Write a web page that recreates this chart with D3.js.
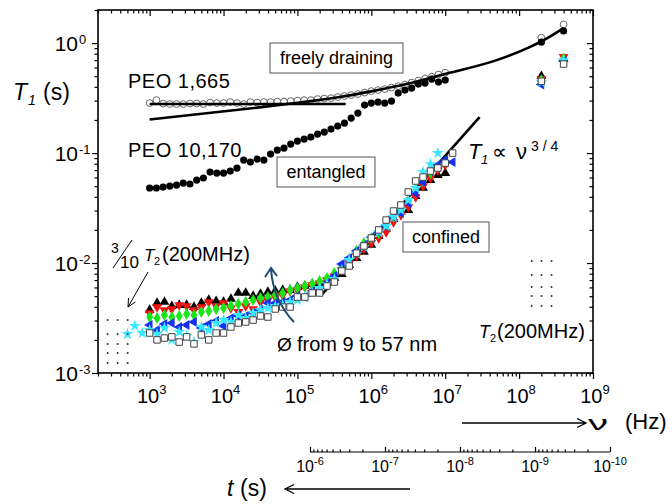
<!DOCTYPE html>
<html>
<head>
<meta charset="utf-8">
<script src="https://cdn.jsdelivr.net/npm/d3@7"></script>
<style>
body { margin: 0; background: #fff; }
svg text { font-family: "Liberation Sans", Arial, sans-serif; fill: #000; }
</style>
</head>
<body>
<svg id="chart" width="672" height="504"></svg>
<script>
// ---- data ----
// PEO melts, frequency grid in Hz
var nuPEO = [1000, 1233, 1520, 1874, 2310, 2848, 3511, 4329, 5337, 6579, 8111,
  1.0e4, 1.233e4, 1.52e4, 1.874e4, 2.31e4, 2.848e4, 3.511e4, 4.329e4, 5.337e4, 6.579e4, 8.111e4,
  1.0e5, 1.233e5, 1.52e5, 1.874e5, 2.31e5, 2.848e5, 3.511e5, 4.329e5, 5.337e5, 6.579e5, 8.111e5,
  1.0e6, 1.233e6, 1.52e6, 1.874e6, 2.31e6, 2.848e6, 3.511e6, 4.329e6, 5.337e6, 6.579e6, 8.111e6,
  1.0e7];
var t1665 = [0.285, 0.303, 0.282, 0.279, 0.279, 0.279, 0.282, 0.282, 0.279, 0.288, 0.285,
  0.285, 0.291, 0.285, 0.279, 0.291, 0.288, 0.291, 0.291, 0.294, 0.294, 0.297,
  0.300, 0.303, 0.303, 0.310, 0.313, 0.316, 0.323, 0.330, 0.337, 0.344, 0.355,
  0.366, 0.374, 0.382, 0.394, 0.406, 0.419, 0.437, 0.456, 0.476, 0.496, 0.517,
  0.539];
var t10170 = [0.0481, 0.0481, 0.0491, 0.0501, 0.0512, 0.0534, 0.0523, 0.0568, 0.0593, 0.0672, 0.0658,
  0.0658, 0.0686, 0.0731, 0.0864, 0.0828, 0.0882, 0.0864, 0.0979, 0.1065, 0.111, 0.1207,
  0.1285, 0.134, 0.1398, 0.1488, 0.1552, 0.1652, 0.176, 0.1874, 0.2081, 0.231, 0.2732,
  0.2848, 0.2908, 0.2848, 0.2971, 0.3511, 0.3738, 0.3899, 0.4238, 0.4329, 0.4708, 0.442,
  0.4609];

// high field points (200 and 400 MHz)
var nuHF = [2e8, 4e8];
var t1665HF = [1.12, 1.48];
var t10170HF = [1.02, 1.29];

// PEO in nanopores, frequency grid in Hz
var nuPore = [1000, 1259, 1585, 1995, 2512, 3162, 3981, 5012, 6310, 7943,
  1.0e4, 1.259e4, 1.585e4, 1.995e4, 2.512e4, 3.162e4, 3.981e4, 5.012e4, 6.31e4, 7.943e4,
  1.0e5, 1.259e5, 1.585e5, 1.995e5, 2.512e5, 3.162e5, 3.981e5, 5.012e5, 6.31e5, 7.943e5,
  1.0e6, 1.259e6, 1.585e6, 1.995e6, 2.512e6, 3.162e6, 3.981e6, 5.012e6, 6.31e6, 7.943e6,
  1.0e7, 1.259e7];
var tBlack = [0.00374, 0.00433, 0.00442, 0.00406, 0.00415, 0.00415, 0.00398, 0.00433, 0.00461, 0.00451,
  0.00442, 0.00471, 0.00534, 0.00534, 0.00501, 0.00523, 0.00545, 0.00557, 0.00568, 0.00568,
  0.00605, 0.00618, 0.00644, 0.00644, 0.00672, 0.00731, 0.00794, 0.00959, 0.0111, 0.0126,
  0.0146, 0.0176, 0.0204, 0.0251, 0.0291, 0.0303, 0.0406, 0.0481, 0.0568, 0.0631,
  0.0658];
var tRed = [0.00351, 0.00398, 0.00374, 0.00382, 0.00415, 0.00406, 0.00374, 0.00398, 0.00442, 0.00406,
  0.00433, 0.00390, 0.00359, 0.00406, 0.00382, 0.00442, 0.00461, 0.00491, 0.00512, 0.00557,
  0.00568, 0.00605, 0.00631, 0.00658, 0.00701, 0.00762, 0.00864, 0.0100, 0.0116, 0.0134,
  0.0152, 0.0169, 0.0191, 0.0236, 0.0273, 0.0323, 0.0398, 0.0501, 0.0593, 0.0701,
  0.0778];
var tGreen = [0.00323, 0.00316, 0.00337, 0.00323, 0.00330, 0.00344, 0.00337, 0.00359, 0.00366, 0.00382,
  0.00390, 0.00406, 0.00424, 0.00442, 0.00461, 0.00481, 0.00491, 0.00512, 0.00534, 0.00568,
  0.00593, 0.00618, 0.00644, 0.00686, 0.00731, 0.00811, 0.00939, 0.0109, 0.0129, 0.0152,
  0.0169, 0.0187, 0.0226, 0.0262, 0.0297, 0.0366, 0.0461, 0.0557, 0.0658, 0.0746,
  0.0828];
var tBlue = [0.00273, 0.00246, 0.00279, 0.00285, 0.00262, 0.00273, 0.00291, 0.00257, 0.00279, 0.00297,
  0.00268, 0.00316, 0.00330, 0.00330, 0.00351, 0.00374, 0.00433, 0.00433, 0.00442, 0.00461,
  0.00501, 0.00491, 0.00557, 0.00568, 0.00658, 0.00762, 0.00979, 0.0111, 0.0129, 0.0146,
  0.0172, 0.0191, 0.0217, 0.0262, 0.0285, 0.0351, 0.0433, 0.0545, 0.0686, 0.0778,
  0.0864, 0.0828];
var nuCyanLow = [501, 631, 794];
var tCyanLow = [0.00226, 0.00268, 0.00231];
var tCyan = [0.00246, 0.00226, 0.00257, 0.00200, 0.00236, 0.00217, 0.00191, 0.00262, 0.00246, 0.00285,
  0.00303, 0.00291, 0.00337, 0.00316, 0.00351, 0.00374, 0.00390, 0.00406, 0.00415, 0.00442,
  0.00461, 0.00491, 0.00534, 0.00593, 0.00644, 0.00715, 0.00864, 0.01065, 0.0121, 0.0140,
  0.0169, 0.0191, 0.0217, 0.0262, 0.0303, 0.0374, 0.0481, 0.0672, 0.0794, 0.100];
var tSquare = [0.00231, 0.00200, 0.00208, 0.00213, 0.00191, 0.00213, 0.00184, 0.00222, 0.00200, 0.00231,
  0.00231, 0.00262, 0.00285, 0.00291, 0.00303, 0.00330, 0.00323, 0.00382, 0.00398, 0.00398,
  0.00491, 0.00491, 0.00534, 0.00534, 0.00618, 0.00672, 0.00846, 0.00939, 0.0123, 0.0143,
  0.0169, 0.0200, 0.0246, 0.0297, 0.0337, 0.0442, 0.0557, 0.0605, 0.0686, 0.0731,
  0.0811, 0.100];
// pores at 200 / 400 MHz
var tBlackHF = [0.50, 0.72], tRedHF = [0.47, 0.75], tGreenHF = [0.46, 0.72];
var tBlueHF = [0.42, 0.69], tCyanHF = [0.44, 0.70], tSquareHF = [0.45, 0.645];

// fit curves
var nuFree = [1e3, 2.25e4, 1.07e5, 3.72e5, 1.04e6, 3.0e6, 1.05e7, 4.97e7, 1.39e8, 2.02e8, 4.0e8];
var tFree = [0.202, 0.254, 0.288, 0.323, 0.366, 0.424, 0.528, 0.70, 0.92, 1.04, 1.37];
var nuFlat = [1e3, 4.5e5];
var tFlat = [0.279, 0.279];
var nuConf = [2.12e5, 2.92e7];
var tConf = [0.00512, 0.212];

// T2 at 200 MHz (right) and 3/10 T2 (left)
var nuT2 = [1.48e8, 2.01e8, 2.75e8];
var tT2 = [0.01043, 0.00778, 0.00605, 0.00501, 0.00406];
var nuT2s = [270, 369, 504];
var tT2s = [0.00303, 0.00226, 0.00184, 0.00152, 0.00123];

// ---- chart ----
var svg = d3.select("#chart");
var x = d3.scaleLog().domain([2e2, 1e9]).range([98, 593]);
var y = d3.scaleLog().domain([1e-3, 2]).range([373, 10]);
var tScale = d3.scaleLog().domain([1e-6, 1e-10]).range([310, 610]);

function isMajor(v) {
  var l = Math.log10(v);
  return Math.abs(l - Math.round(l)) < 1e-6;
}

function addTicks(gen, transform, values, size) {
  svg.append("g")
    .attr("transform", transform)
    .call(gen.tickValues(values).tickSize(size).tickFormat(""))
    .call(function(g) {
      g.select(".domain").remove();
      g.selectAll("text").remove();
    })
    .selectAll("line").attr("stroke", "#000").attr("stroke-width", 1.2);
}

var xt = x.ticks(), yt = y.ticks();
var xMaj = xt.filter(isMajor), xMin = xt.filter(function(v) { return !isMajor(v); });
var yMaj = yt.filter(isMajor), yMin = yt.filter(function(v) { return !isMajor(v); });

addTicks(d3.axisBottom(x), "translate(0,373)", xMaj, 6);
addTicks(d3.axisBottom(x), "translate(0,373)", xMin, 3.5);
addTicks(d3.axisBottom(x), "translate(0,10)", xMaj, 6);
addTicks(d3.axisBottom(x), "translate(0,10)", xMin, 3.5);
addTicks(d3.axisLeft(y), "translate(98,0)", yMaj, 6);
addTicks(d3.axisLeft(y), "translate(98,0)", yMin, 3.5);
addTicks(d3.axisLeft(y), "translate(593,0)", yMaj, 6);
addTicks(d3.axisLeft(y), "translate(593,0)", yMin, 3.5);

svg.append("rect")
  .attr("x", 98).attr("y", 10).attr("width", 495).attr("height", 363)
  .attr("fill", "none").attr("stroke", "#000").attr("stroke-width", 1.6);

// y tick labels
yMaj.forEach(function(v) {
  svg.append("text").attr("x", 78).attr("y", y(v) + 8)
    .attr("text-anchor", "end").style("font-size", "21px").text("10");
  svg.append("text").attr("x", 79).attr("y", y(v) + 1)
    .style("font-size", "13px").text(Math.round(Math.log10(v)));
});

// x tick labels
xMaj.filter(function(v) { return v >= 1e3; }).forEach(function(v) {
  var t = svg.append("text").attr("x", x(v) + 2).attr("y", 403)
    .attr("text-anchor", "middle").style("font-size", "20px");
  t.append("tspan").text("10");
  t.append("tspan").attr("dy", -9).style("font-size", "13px").text(Math.round(Math.log10(v)));
});

// axis titles
svg.append("text").attr("x", 13).attr("y", 100).style("font-size", "23px").style("font-style", "italic").text("T");
svg.append("text").attr("x", 28).attr("y", 105).style("font-size", "14px").style("font-style", "italic").text("1");
svg.append("text").attr("x", 43).attr("y", 100).style("font-size", "23px").text("(s)");

svg.append("text").attr("transform", "translate(588,430) scale(2,1.05)")
  .style("font-size", "20px").text("ν");
svg.append("text").attr("x", 625).attr("y", 429).style("font-size", "22px").text("(Hz)");
svg.append("path").attr("d", "M462,423H585M577,418.5L586,423L577,427.5")
  .attr("fill", "none").attr("stroke", "#000").attr("stroke-width", 1.3);

// time axis underneath
var tt = tScale.ticks();
var tMaj = tt.filter(isMajor), tMin = tt.filter(function(v) { return !isMajor(v); });
svg.append("line").attr("x1", 310).attr("x2", 610).attr("y1", 452).attr("y2", 452)
  .attr("stroke", "#000").attr("stroke-width", 1.2);
addTicks(d3.axisTop(tScale), "translate(0,452)", tMaj, 5);
addTicks(d3.axisTop(tScale), "translate(0,452)", tMin, 2.5);
tMaj.forEach(function(v) {
  var t = svg.append("text").attr("x", tScale(v)).attr("y", 472)
    .attr("text-anchor", "middle").style("font-size", "16px");
  t.append("tspan").text("10");
  t.append("tspan").attr("dy", -7).style("font-size", "11px").text(Math.round(Math.log10(v)));
});
svg.append("text").attr("x", 227).attr("y", 496).style("font-size", "23px").style("font-style", "italic").text("t");
svg.append("text").attr("x", 240).attr("y", 496).style("font-size", "23px").text("(s)");
svg.append("path").attr("d", "M287,489H410M294,484.5L285,489L294,493.5")
  .attr("fill", "none").attr("stroke", "#000").attr("stroke-width", 1.3);

// ---- PEO melt points ----
function pairs(nu, t) { return nu.slice(0, t.length).map(function(v, i) { return [v, t[i]]; }); }

var peo1665 = pairs(nuPEO, t1665).concat(pairs(nuHF, t1665HF));
var peo10170 = pairs(nuPEO, t10170).concat(pairs(nuHF, t10170HF));

svg.append("g").selectAll("circle").data(peo1665).enter().append("circle")
  .attr("cx", function(d) { return x(d[0]); })
  .attr("cy", function(d) { return y(d[1]); })
  .attr("r", 3.4).attr("fill", "#fff").attr("fill-opacity", 0.4)
  .attr("stroke", "#666").attr("stroke-width", 1);

svg.append("g").selectAll("circle").data(peo10170).enter().append("circle")
  .attr("cx", function(d) { return x(d[0]); })
  .attr("cy", function(d) { return y(d[1]); })
  .attr("r", 3.6).attr("fill", "#000");

// fit lines
var line = d3.line()
  .x(function(d) { return x(d[0]); })
  .y(function(d) { return y(d[1]); })
  .curve(d3.curveMonotoneX);
[pairs(nuFree, tFree), pairs(nuFlat, tFlat), pairs(nuConf, tConf)].forEach(function(p) {
  svg.append("path").attr("d", line(p)).attr("fill", "none")
    .attr("stroke", "#000").attr("stroke-width", 2.6);
});

// ---- nanopore series ----
var series = [
  { pts: pairs(nuPore, tBlack).concat(pairs(nuHF, tBlackHF)), shape: d3.symbolTriangle, rot: 0, fill: "#000", stroke: "none", size: 42 },
  { pts: pairs(nuPore, tRed).concat(pairs(nuHF, tRedHF)), shape: d3.symbolTriangle, rot: 180, fill: "#f01010", stroke: "none", size: 42 },
  { pts: pairs(nuPore, tGreen).concat(pairs(nuHF, tGreenHF)), shape: d3.symbolDiamond, rot: 0, fill: "#19e619", stroke: "none", size: 42 },
  { pts: pairs(nuPore, tBlue).concat(pairs(nuHF, tBlueHF)), shape: d3.symbolTriangle, rot: -90, fill: "#1430f0", stroke: "none", size: 42 },
  { pts: pairs(nuCyanLow, tCyanLow).concat(pairs(nuPore, tCyan), pairs(nuHF, tCyanHF)), shape: d3.symbolStar, rot: 0, fill: "#38e8ff", stroke: "none", size: 45 },
  { pts: pairs(nuPore, tSquare).concat(pairs(nuHF, tSquareHF)), shape: d3.symbolSquare, rot: 0, fill: "#fff", stroke: "#444", size: 42 }
];

series.forEach(function(s) {
  var sym = d3.symbol().type(s.shape).size(s.size);
  svg.append("g").selectAll("path").data(s.pts).enter().append("path")
    .attr("d", sym)
    .attr("transform", function(d) { return "translate(" + x(d[0]) + "," + y(d[1]) + ") rotate(" + s.rot + ")"; })
    .attr("fill", s.fill)
    .attr("stroke", s.stroke).attr("stroke-width", 1);
});

// T2 dot grids
function dotGrid(nu, t) {
  var pts = [];
  t.forEach(function(tv) { nu.forEach(function(nv) { pts.push([nv, tv]); }); });
  svg.append("g").selectAll("circle").data(pts).enter().append("circle")
    .attr("cx", function(d) { return x(d[0]); })
    .attr("cy", function(d) { return y(d[1]); })
    .attr("r", 1).attr("fill", "#333");
}
dotGrid(nuT2, tT2);
dotGrid(nuT2s, tT2s);

// ---- annotations ----
function box(x0, y0, w, h, label) {
  svg.append("rect").attr("x", x0).attr("y", y0).attr("width", w).attr("height", h)
    .attr("fill", "#fff").attr("stroke", "#555").attr("stroke-width", 1);
  svg.append("text").attr("x", x0 + w / 2).attr("y", y0 + 21)
    .attr("text-anchor", "middle").style("font-size", "18px").text(label);
}
box(270, 43, 133, 30, "freely draining");
box(277, 157, 98, 30, "entangled");
box(403, 222, 86, 30, "confined");

svg.append("text").attr("x", 128).attr("y", 88).style("font-size", "20px")
  .style("letter-spacing", "0.5px").text("PEO 1,665");
svg.append("text").attr("x", 128).attr("y", 157).style("font-size", "20px")
  .style("letter-spacing", "0.5px").text("PEO 10,170");

// T1 ∝ ν^3/4
svg.append("text").attr("x", 468).attr("y", 159).style("font-size", "22px").style("font-style", "italic").text("T");
svg.append("text").attr("x", 481).attr("y", 164).style("font-size", "13px").style("font-style", "italic").text("1");
svg.append("text").attr("x", 492).attr("y", 159).style("font-size", "21px").text("∝");
svg.append("text").attr("x", 516).attr("y", 159).style("font-size", "22px").text("ν");
svg.append("text").attr("x", 531).attr("y", 151).style("font-size", "14px").text("3 / 4");

// 3/10 T2(200MHz)
svg.append("text").attr("x", 111).attr("y", 253).style("font-size", "14px").text("3");
svg.append("line").attr("x1", 113).attr("y1", 268).attr("x2", 132).attr("y2", 240)
  .attr("stroke", "#000").attr("stroke-width", 1);
svg.append("text").attr("x", 120).attr("y", 268).style("font-size", "17px").text("10");
svg.append("text").attr("x", 144).attr("y", 261).style("font-size", "17px").style("font-style", "italic").text("T");
svg.append("text").attr("x", 154).attr("y", 265).style("font-size", "11px").text("2");
svg.append("text").attr("x", 162).attr("y", 261).style("font-size", "20px").text("(200MHz)");
svg.append("path").attr("d", "M148,272L128,307M135.4,302L128,307L128.5,298")
  .attr("fill", "none").attr("stroke", "#000").attr("stroke-width", 1);

// T2(200MHz) right
svg.append("text").attr("x", 479).attr("y", 338).style("font-size", "18px").style("font-style", "italic").text("T");
svg.append("text").attr("x", 490).attr("y", 342).style("font-size", "11px").text("2");
svg.append("text").attr("x", 497).attr("y", 338).style("font-size", "20px").text("(200MHz)");

// diameter arrow
svg.append("path").attr("d", "M294,322Q273,300 271,269M265,277L271,268L277,276")
  .attr("fill", "none").attr("stroke", "#1f4a78").attr("stroke-width", 2);
svg.append("text").attr("x", 277).attr("y", 351).style("font-size", "19px").text("Ø");
svg.append("text").attr("x", 297).attr("y", 351).style("font-size", "20px").text("from 9 to 57 nm");
</script>
</body>
</html>
